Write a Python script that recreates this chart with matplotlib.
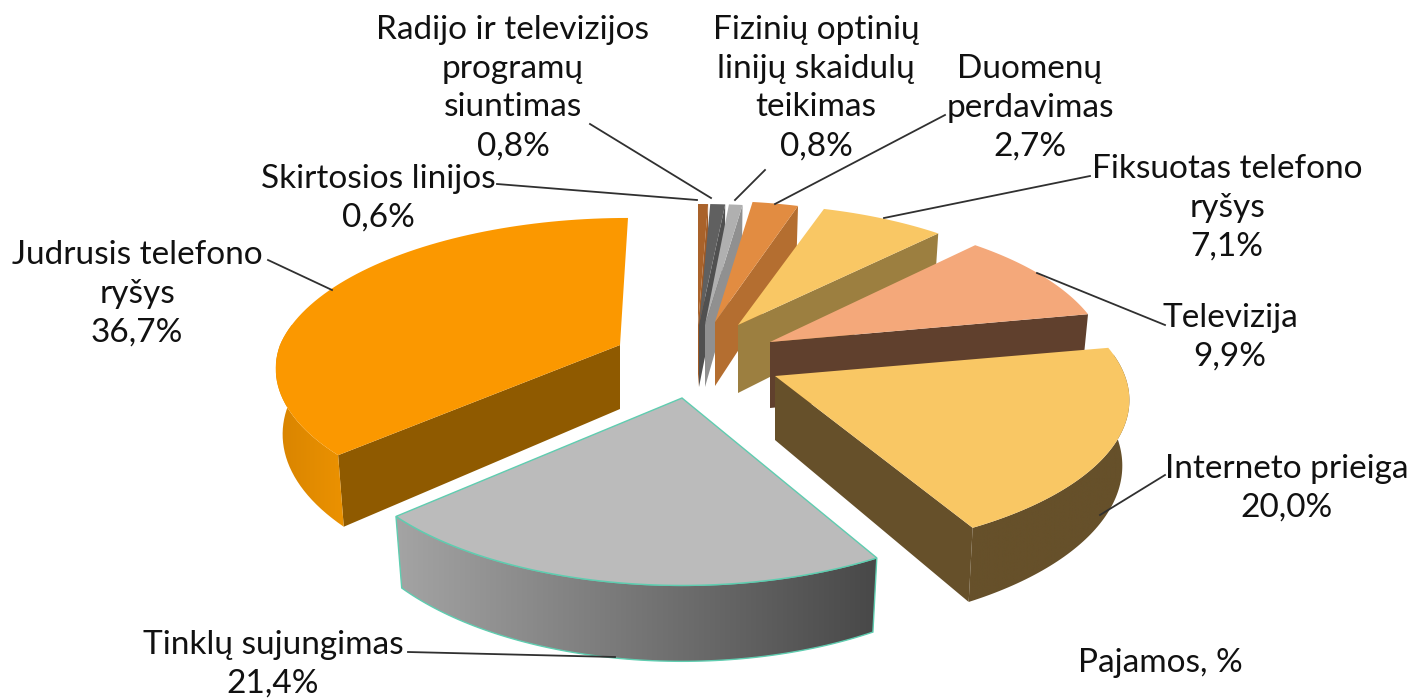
import matplotlib
matplotlib.use('Agg')
import matplotlib.pyplot as plt
from matplotlib.colors import to_rgb
from matplotlib.patches import Polygon
import numpy as np

# data, clockwise from 12 o'clock
names = ['Skirtosios linijos', 'Radijo ir televizijos\nprogramų\nsiuntimas',
         'Fizinių optinių\nlinijų skaidulų\nteikimas', 'Duomenų\nperdavimas',
         'Fiksuotas telefono\nryšys', 'Televizija', 'Interneto prieiga',
         'Tinklų sujungimas', 'Judrusis telefono\nryšys']
shares = [0.6, 0.8, 0.8, 2.7, 7.1, 9.9, 20.0, 21.4, 36.7]
note = 'Pajamos, %'

# where each slice tip ends up after exploding, and its size on screen
tips = [(698, 325), (699, 325), (705, 325), (715, 322), (738, 325),
        (770, 342), (775, 376), (682, 398), (620, 345)]
radii = [(310, 140), (345, 140), (315, 140), (315, 140), (326, 140),
         (334, 148), (350, 150), (345, 158), (340, 147)]
depths = [62, 62, 62, 64, 68, 66, 64, 64, 64]
leans = [0, 0, 0, 0, 0, 0, 0, 0, 0.063]
k = 0.157

tops = ['#A9622A', '#606060', '#B0B0B0', '#E28C41', '#F9C764',
        '#F4A87A', '#F9C764', '#BBBBBB', '#FB9800']
sides = ['#A05A25', '#505050', '#909090', '#B46E30', '#9C7F40',
         '#60402D', '#66502A', '#BBBBBB', '#8F5A00']
rims = [None, None, None, None, None, None, ('#66502A', '#66502A'),
        ('#A4A4A4', '#484848'), ('#D88400', '#EC9200')]

label_xy = [(378, 198), (513, 88), (816, 88), (1030, 108), (1227, 208),
            (1230, 337), (1287, 488), (273, 664), (137, 294)]
leaders = [((497, 184), (697, 200)), ((590, 124), (711, 198)),
           ((765, 170), (735, 200)), ((945, 115), (775, 204)),
           ((1090, 176), (884, 218)), ((1165, 325), (1037, 273)),
           ((1165, 475), (1100, 515)), ((408, 652), (615, 657)),
           ((268, 260), (332, 290))]

plt.rcParams['font.family'] = ['Lato', 'DejaVu Sans']


def project(i, theta):
    s = 1 / (1 + k * np.cos(theta))
    y = tips[i][1] - radii[i][1] * np.cos(theta) * s
    x = tips[i][0] + radii[i][0] * np.sin(theta) * s
    x = x + leans[i] * np.maximum(0, tips[i][1] - y)
    return x, y, s


def drop(i, x, y, s):
    return tips[i][0] + 0.98 * (x - tips[i][0]), y + depths[i] * s


fig = plt.figure(figsize=(14.14, 7), dpi=100)
ax = fig.add_axes([0, 0, 1, 1])

edges = np.radians(np.cumsum([0] + shares) * 3.6)
for i in range(len(shares)):
    t0, t1 = edges[i], edges[i + 1]
    theta = np.linspace(t0, t1, 80)
    x, y, s = project(i, theta)
    xb, yb = drop(i, x, y, s)
    tip = tips[i]
    tip_b = (tip[0], tip[1] + depths[i])
    edge = '#5FCDB0' if i == 7 else 'none'
    lw = 1.0 if i == 7 else 0
    # radial wall that faces the viewer
    if np.sin(t0) < -0.01:
        ax.add_patch(Polygon([tip, (x[0], y[0]), (xb[0], yb[0]), tip_b],
                             facecolor=sides[i], edgecolor='none', zorder=i * 3))
    if np.sin(t1) > 0.01:
        ax.add_patch(Polygon([tip, (x[-1], y[-1]), (xb[-1], yb[-1]), tip_b],
                             facecolor=sides[i], edgecolor='none', zorder=i * 3))
    # outer wall, only the part seen from the front
    seen = np.cos(theta) < 0.15
    if rims[i] is not None and seen.any():
        pts = np.r_[np.c_[x[seen], y[seen]], np.c_[xb[seen], yb[seen]][::-1]]
        wall = Polygon(pts, facecolor='none', edgecolor=edge, linewidth=lw,
                       zorder=i * 3 + 1.5)
        ax.add_patch(wall)
        c0, c1 = np.array(to_rgb(rims[i][0])), np.array(to_rgb(rims[i][1]))
        ramp = np.linspace(0, 1, 256)[None, :, None]
        grad = c0[None, None, :] * (1 - ramp) + c1[None, None, :] * ramp
        im = ax.imshow(grad, extent=(pts[:, 0].min(), pts[:, 0].max(),
                                     pts[:, 1].max(), pts[:, 1].min()),
                       aspect='auto', zorder=i * 3 + 1)
        im.set_clip_path(wall)
    ax.add_patch(Polygon(np.r_[[tip], np.c_[x, y]], facecolor=tops[i],
                         edgecolor=edge, linewidth=lw, zorder=i * 3 + 2))

for i in range(len(shares)):
    a, b = leaders[i]
    ax.plot([a[0], b[0]], [a[1], b[1]], color='#303030', linewidth=1.3, zorder=40)
    pct = f'{shares[i]:.1f}'.replace('.', ',') + '%'
    ax.text(label_xy[i][0], label_xy[i][1], names[i] + '\n' + pct, ha='center',
            va='center', fontsize=24, linespacing=1.37, color='#111111', zorder=50)
ax.text(1160, 663, note, ha='center', va='center', fontsize=24, color='#111111')

ax.set_xlim(0, 1414)
ax.set_ylim(700, 0)
ax.axis('off')
fig.savefig('out.png', dpi=100)
